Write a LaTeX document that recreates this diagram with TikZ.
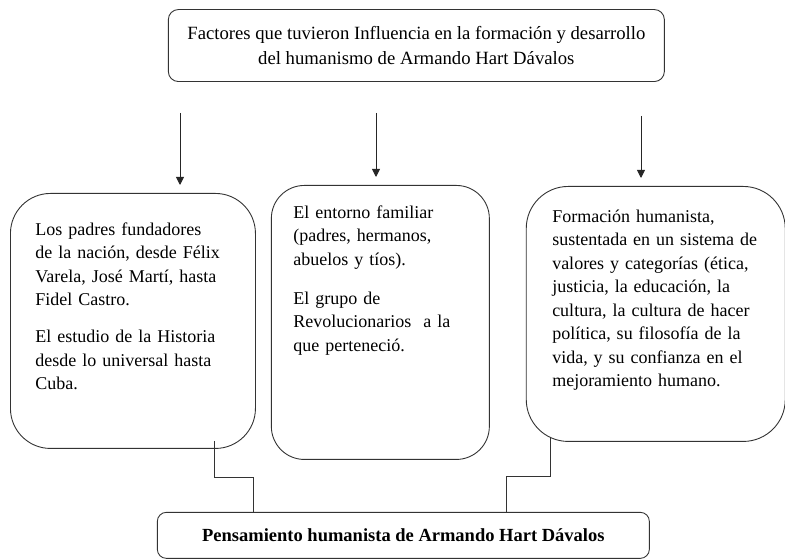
\documentclass[tikz,border=0pt]{standalone}
\usepackage{fontspec}
\setmainfont{Liberation Serif}
\usetikzlibrary{positioning,arrows.meta}

\tikzset{
  factbox/.style={draw=black!80, line width=0.9pt, align=left, inner ysep=0pt,
    font=\fontsize{18}{23.5}\selectfont},
  titlebox/.style={draw=black!80, line width=0.9pt, rounded corners=10pt,
    align=center, inner sep=0pt, font=\fontsize{18.7}{25}\selectfont},
  resultbox/.style={draw=black!80, line width=0.9pt, rounded corners=9pt,
    inner sep=0pt, font=\bfseries\fontsize{18.5}{22}\selectfont},
  flecha/.style={draw=black!85, line width=0.9pt, -{Triangle[length=8pt,width=8pt]},
    shorten >=8pt},
  conn/.style={draw=black!80, line width=0.9pt},
}

\begin{document}
\begin{tikzpicture}[x=1pt,y=1pt]

  \useasboundingbox (0,0) rectangle (785,559);

  % Nodes

  \node[factbox, rounded corners=40pt, anchor=north west, inner xsep=25pt, text width=195pt,
        text height=42pt, text depth=213pt] (lbox) at (10,366)
    {Los padres fundadores\\de la nación, desde Félix\\Varela, José Martí, hasta\\Fidel Castro.\\[13.5pt]
     El estudio de la Historia\\desde lo universal hasta\\Cuba.} ; %
  \node[factbox, rounded corners=33pt, right=15pt of lbox, yshift=-1.5pt, inner xsep=22pt,
        text width=174pt, text height=33pt, text depth=241pt] (mbox)
    {El entorno familiar\\(padres, hermanos,\\abuelos y tíos).\\[15.5pt]
     El grupo de\\Revolucionarios\ \ a la\\que perteneció.} ; %
  \node[factbox, rounded corners=42pt, right=36pt of mbox, yshift=8.5pt, inner xsep=26pt,
        text width=207pt, text height=36pt, text depth=219pt] (rbox)
    {Formación humanista,\\sustentada en un sistema de\\valores y categorías (ética,\\justicia,\ la educación,\ la\\
     cultura,\ la cultura de hacer\\política,\ su filosofía\ de la\\vida, y su confianza en el\\mejoramiento humano.} ; %

  % Title and result
  \node[titlebox, above=103pt of mbox, xshift=36pt, minimum width=496pt, minimum height=72pt] (fac)
    {Factores que tuvieron Influencia en la formación y desarrollo\\del humanismo de Armando Hart\ Dávalos} ; %
  \node[resultbox, below=52pt of mbox, xshift=23pt, minimum width=492pt, minimum height=46pt] (pens)
    {Pensamiento humanista de Armando Hart Dávalos} ; %

  % Arrows
  \coordinate (a1) at (180,446) ;
  \coordinate (a2) at (376,446) ;
  \coordinate (a3) at (641,443) ;
  \draw[flecha] (a1) -- (a1 |- lbox.north) ; %
  \draw[flecha] (a2) -- (a2 |- mbox.north) ; %
  \draw[flecha] (a3) -- (a3 |- rbox.north) ; %

  % Connectors to result
  \coordinate (c1) at (214,118) ;
  \coordinate (c2) at (253,82) ;
  \coordinate (c3) at (550,121) ;
  \coordinate (c4) at (506,83) ;
  \draw[conn] (c1) |- (c2) -- (c2 |- pens.north) ; %
  \draw[conn] (c3) |- (c4) -- (c4 |- pens.north) ; %

\end{tikzpicture}
\end{document}
